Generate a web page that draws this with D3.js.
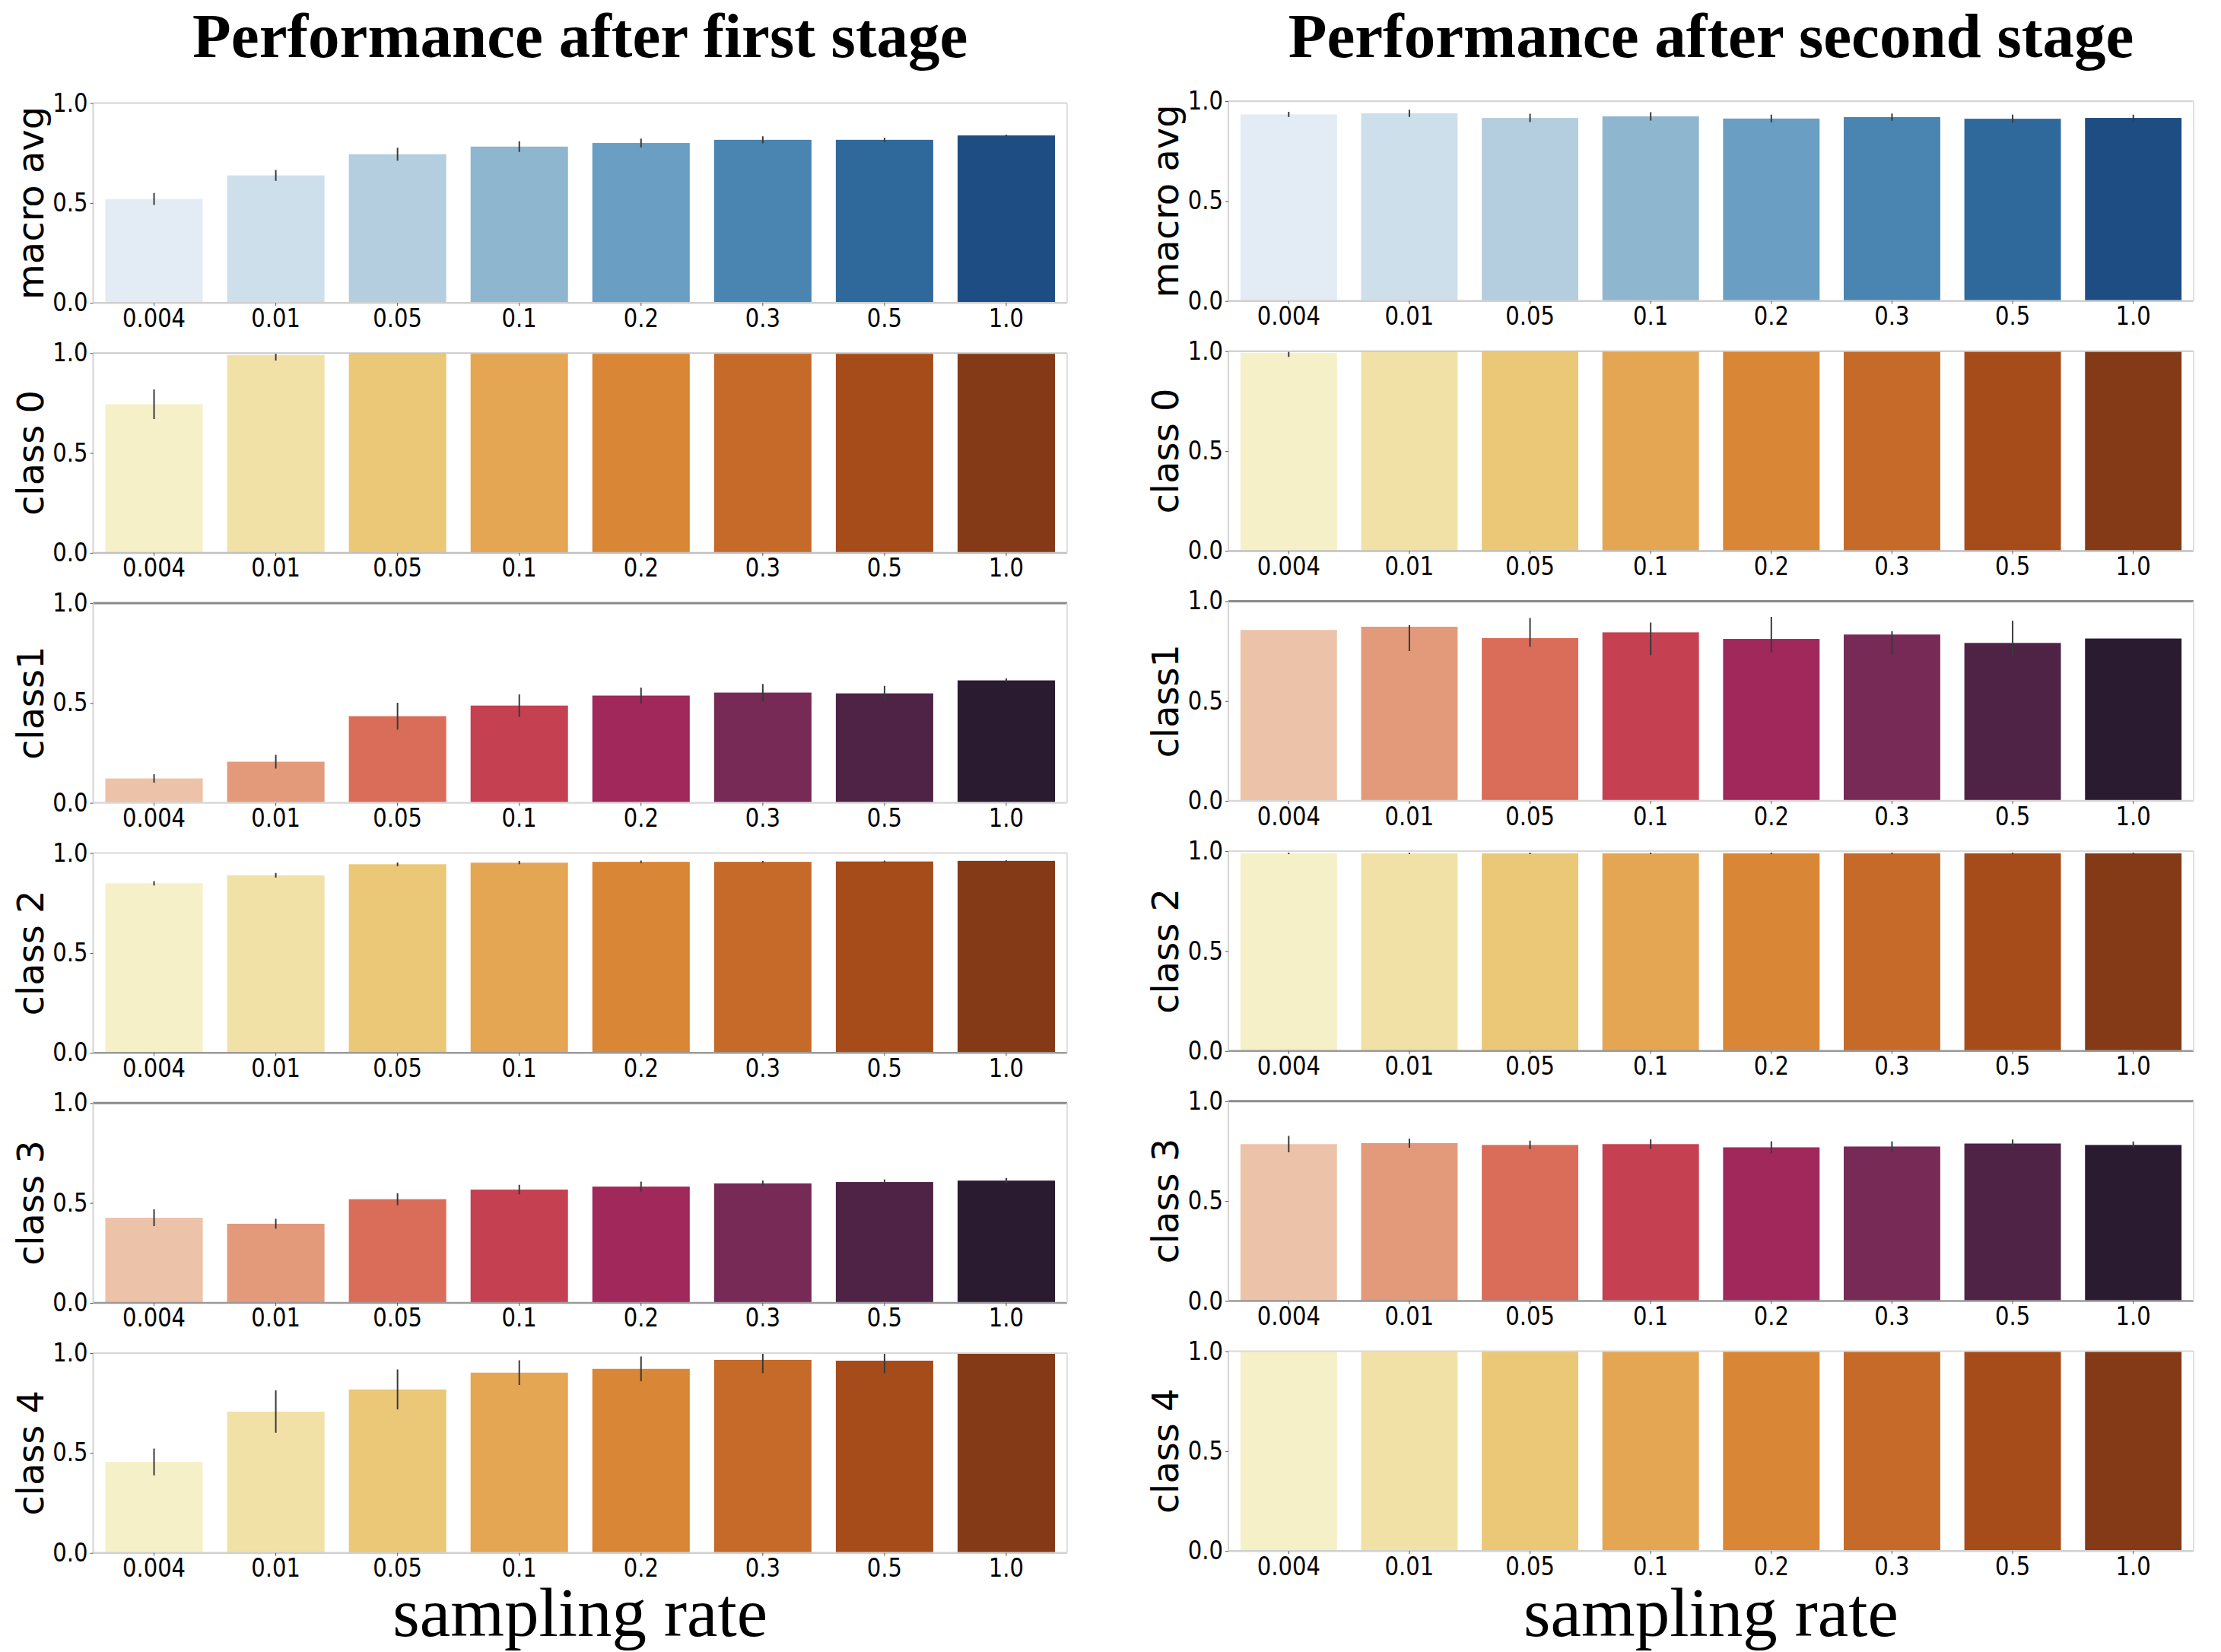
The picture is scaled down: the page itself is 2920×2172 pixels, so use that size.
<!DOCTYPE html>
<meta charset="utf-8">
<script src="https://d3js.org/d3.v7.min.js"></script>
<style>
  body { margin: 0; background: #fff; }
</style>
<body>
<div id="chart"></div>
<script>

// categories and labels
var rates = ["0.004", "0.01", "0.05", "0.1", "0.2", "0.3", "0.5", "1.0"];
var rowLabels = ["macro avg", "class 0", "class1", "class 2", "class 3", "class 4"];
var yTicks = [0, 0.5, 1.0];
var colTitles = ["Performance after first stage", "Performance after second stage"];
var xTitle = "sampling rate";

// first stage: means and error (half width of CI)
var s1Macro    = [0.520, 0.638, 0.744, 0.782, 0.800, 0.816, 0.816, 0.838];
var s1MacroErr = [0.030, 0.027, 0.032, 0.027, 0.022, 0.017, 0.011, 0.004];
var s1C0       = [0.744, 0.990, 1.000, 1.000, 1.000, 1.000, 1.000, 1.000];
var s1C0Err    = [0.074, 0.027, 0, 0, 0, 0, 0, 0];
var s1C1       = [0.122, 0.206, 0.434, 0.487, 0.537, 0.552, 0.548, 0.613];
var s1C1Err    = [0.021, 0.034, 0.067, 0.056, 0.040, 0.043, 0.038, 0.010];
var s1C2       = [0.849, 0.889, 0.944, 0.952, 0.956, 0.956, 0.958, 0.961];
var s1C2Err    = [0.011, 0.011, 0.009, 0.008, 0.006, 0.004, 0.004, 0.003];
var s1C3       = [0.426, 0.396, 0.519, 0.567, 0.582, 0.598, 0.605, 0.612];
var s1C3Err    = [0.042, 0.025, 0.030, 0.024, 0.025, 0.014, 0.013, 0.013];
var s1C4       = [0.455, 0.707, 0.818, 0.902, 0.921, 0.966, 0.962, 1.000];
var s1C4Err    = [0.067, 0.106, 0.100, 0.062, 0.062, 0.067, 0.063, 0];

// second stage
var s2Macro    = [0.934, 0.939, 0.916, 0.924, 0.913, 0.920, 0.912, 0.916];
var s2MacroErr = [0.013, 0.018, 0.021, 0.021, 0.019, 0.018, 0.020, 0.016];
var s2C0       = [0.991, 1.000, 1.000, 1.000, 1.000, 1.000, 1.000, 1.000];
var s2C0Err    = [0.020, 0, 0, 0, 0, 0, 0, 0];
var s2C1       = [0.856, 0.872, 0.815, 0.844, 0.811, 0.833, 0.791, 0.813];
var s2C1Err    = [0, 0.065, 0.072, 0.082, 0.089, 0.058, 0.089, 0.072];
var s2C2       = [0.989, 0.989, 0.989, 0.989, 0.989, 0.989, 0.989, 0.989];
var s2C2Err    = [0.004, 0.004, 0.004, 0.004, 0.004, 0.004, 0.004, 0.004];
var s2C3       = [0.785, 0.790, 0.781, 0.785, 0.769, 0.773, 0.788, 0.781];
var s2C3Err    = [0.041, 0.023, 0.021, 0.024, 0.030, 0.025, 0.020, 0.017];
var s2C4       = [1.000, 1.000, 1.000, 1.000, 1.000, 1.000, 1.000, 1.000];
var s2C4Err    = [0, 0, 0, 0, 0, 0, 0, 0];

// palettes
var blues  = ["#e3ebf4", "#cedfec", "#b4cee0", "#8fb6cf", "#6a9ec2", "#4a84b0", "#2f699c", "#1e4d84"];
var ylorbr = ["#f6f0c8", "#f2e1a7", "#eac877", "#e4a653", "#d98636", "#c56a29", "#a64c1b", "#843a17"];
var rocket = ["#ecc2a9", "#e39a7b", "#da6d59", "#c54151", "#a0285a", "#772a56", "#4f2345", "#2a1b30"];
var rowPalettes = [blues, ylorbr, rocket, ylorbr, rocket, ylorbr];

var stages = [
  [[s1Macro, s1MacroErr], [s1C0, s1C0Err], [s1C1, s1C1Err], [s1C2, s1C2Err], [s1C3, s1C3Err], [s1C4, s1C4Err]],
  [[s2Macro, s2MacroErr], [s2C0, s2C0Err], [s2C1, s2C1Err], [s2C2, s2C2Err], [s2C3, s2C3Err], [s2C4, s2C4Err]]
];

// layout
var W = 2920, H = 2172;
var cols = [
  {left: 122.5, right: 1403, top: 135.5, labelX: 57},
  {left: 1615, right: 2884, top: 133, labelX: 1549}
];
var pitch = 328.7, ph = 262.7;
var squeeze = 0.88;   // tick labels look horizontally narrow in the picture

// spine tweaks seen in the picture (top / bottom line colour)
var topSpine = ["#d4d4d4", "#c8c8c8", "#8a8a8a", "#d8d8d8", "#8a8a8a", "#d8d8d8"];
var botSpine = ["#d0d0d0", "#c0c0c0", "#d8d8d8", "#9a9a9a", "#9a9a9a", "#d0d0d0"];

var svg = d3.select("#chart").append("svg")
  .attr("width", W)
  .attr("height", H);

cols.forEach(function(c, ci) {

  // column title
  svg.append("text")
    .attr("x", (c.left + c.right) / 2)
    .attr("y", 75)
    .attr("text-anchor", "middle")
    .style("font-family", "'Liberation Serif', 'Times New Roman', serif")
    .style("font-weight", "bold")
    .style("font-size", "83px")
    .text(colTitles[ci]);

  // x axis title
  svg.append("text")
    .attr("x", (c.left + c.right) / 2)
    .attr("y", 2151)
    .attr("text-anchor", "middle")
    .style("font-family", "'Liberation Serif', 'Times New Roman', serif")
    .style("font-size", "91px")
    .text(xTitle);

  rowLabels.forEach(function(lab, ri) {
    var top = c.top + ri * pitch;
    var bottom = top + ph;
    var means = stages[ci][ri][0];
    var errs = stages[ci][ri][1];
    var pal = rowPalettes[ri];

    var x = d3.scaleBand()
      .domain(rates)
      .range([c.left, c.right])
      .paddingInner(0.2)
      .paddingOuter(0.1);
    var y = d3.scaleLinear()
      .domain([0, 1])
      .range([bottom, top]);

    var g = svg.append("g");
    var clipId = "clip" + ci + "_" + ri;
    g.append("clipPath").attr("id", clipId)
      .append("rect")
        .attr("x", c.left).attr("y", top)
        .attr("width", c.right - c.left).attr("height", ph);

    // bars
    g.selectAll(".bar")
      .data(means)
      .enter()
      .append("rect")
        .attr("class", "bar")
        .attr("x", function(d, i) { return x(rates[i]); })
        .attr("width", x.bandwidth())
        .attr("y", function(d) { return y(d); })
        .attr("height", function(d) { return y(0) - y(d); })
        .attr("fill", function(d, i) { return pal[i]; });

    // error bars
    g.append("g")
      .attr("clip-path", "url(#" + clipId + ")")
      .selectAll("line")
      .data(means)
      .enter()
      .filter(function(d, i) { return errs[i] > 0; })
      .append("line")
        .attr("x1", function(d, i) { return x(rates[i]) + x.bandwidth() / 2; })
        .attr("x2", function(d, i) { return x(rates[i]) + x.bandwidth() / 2; })
        .attr("y1", function(d, i) { return y(d - errs[i]); })
        .attr("y2", function(d, i) { return y(d + errs[i]); })
        .attr("stroke", "#3a3a3a")
        .attr("stroke-width", 2);

    // spines
    g.append("line")
      .attr("x1", c.left).attr("x2", c.right).attr("y1", top).attr("y2", top)
      .attr("stroke", topSpine[ri]).attr("stroke-width", topSpine[ri] == "#8a8a8a" ? 3 : 2);
    g.append("line")
      .attr("x1", c.left).attr("x2", c.right).attr("y1", bottom).attr("y2", bottom)
      .attr("stroke", botSpine[ri]).attr("stroke-width", 2.5);
    g.append("line")
      .attr("x1", c.left).attr("x2", c.left).attr("y1", top).attr("y2", bottom)
      .attr("stroke", "#d4d4d4").attr("stroke-width", 2);
    g.append("line")
      .attr("x1", c.right).attr("x2", c.right).attr("y1", top).attr("y2", bottom)
      .attr("stroke", "#e0e0e0").attr("stroke-width", 2);

    // y axis
    var yAxis = g.append("g")
      .attr("transform", "translate(" + c.left + ",0)")
      .call(d3.axisLeft(y).tickValues(yTicks).tickSize(4).tickPadding(4)
        .tickFormat(d3.format(".1f")));
    yAxis.select(".domain").remove();
    yAxis.selectAll("line").attr("stroke", "#555");
    yAxis.selectAll("text")
      .attr("fill", "#000")
      .attr("transform", "scale(" + squeeze + ",1)")
      .style("font-family", "'DejaVu Sans', sans-serif")
      .style("font-size", "33px");

    // x axis
    var xAxis = g.append("g")
      .attr("transform", "translate(0," + bottom + ")")
      .call(d3.axisBottom(x).tickSize(4).tickPadding(4));
    xAxis.select(".domain").remove();
    xAxis.selectAll("line").attr("stroke", "#555");
    xAxis.selectAll("text")
      .attr("fill", "#000")
      .attr("transform", "scale(" + squeeze + ",1)")
      .style("font-family", "'DejaVu Sans', sans-serif")
      .style("font-size", "33px");

    // row label
    svg.append("text")
      .attr("transform", "translate(" + c.labelX + "," + ((top + bottom) / 2) + ") rotate(-90)")
      .attr("text-anchor", "middle")
      .style("font-family", "'DejaVu Sans', sans-serif")
      .style("font-size", "48px")
      .text(lab);
  });
});

</script>
</body>
